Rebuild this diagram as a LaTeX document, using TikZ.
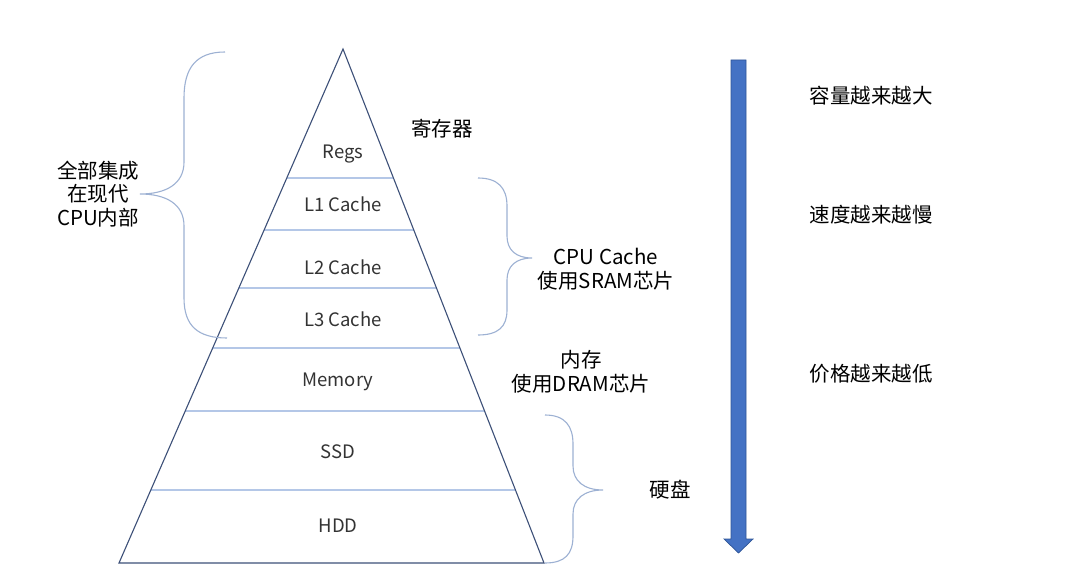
\documentclass[tikz,border=0pt]{standalone}
\usepackage{fontspec}
\newfontfamily\cjk{Noto Sans CJK SC}
\usetikzlibrary{calc}
\definecolor{edgeblue}{HTML}{3D5078}
\definecolor{sepblue}{HTML}{B4C7E7}
\definecolor{braceblue}{HTML}{9DB1D3}
\definecolor{arrowfill}{HTML}{4472C4}
\definecolor{arrowline}{HTML}{2F5597}
\definecolor{labelgray}{HTML}{333333}
\tikzset{
  layerlabel/.style={font=\cjk\fontsize{18.5}{22}\selectfont, text=labelgray, inner sep=0pt},
  sidelabel/.style={font=\cjk\fontsize{20.5}{23.5}\selectfont, text=black, inner sep=0pt, align=center},
  bracepath/.style={draw=braceblue, line width=1.1pt},
  seppath/.style={draw=sepblue, line width=1.2pt},
  pyredge/.style={draw=edgeblue, line width=1.1pt, line join=miter},
}
\newcommand{\sepline}[1]{%
  \draw[seppath] ($(A)!{(#1-49)/514}!(BL)$) -- ($(A)!{(#1-49)/514}!(BR)$);}
\begin{document}
\begin{tikzpicture}[x=1pt,y=-1pt]
\useasboundingbox (0,0) rectangle (1070,580);
\fill[white] (0,0) rectangle (1070,580);
% pyramid
\coordinate (A) at (343,49);
\coordinate (BL) at (119,563);
\coordinate (BR) at (544,563);
\sepline{178}
\sepline{230}
\sepline{288}
\sepline{348}
\sepline{411}
\sepline{490}
\draw[pyredge] (BL) -- (A) -- (BR) -- cycle;
% layer labels
\node[layerlabel] (regs) at (343,154) {Regs};
\node[layerlabel] (l1) at (343,204) {L1 Cache};
\node[layerlabel] (l2) at (343,267) {L2 Cache};
\node[layerlabel] (l3) at (343,319) {L3 Cache};
\node[layerlabel] (mem) at (338,382) {Memory};
\node[layerlabel] (ssd) at (338,452) {SSD};
\node[layerlabel] (hdd) at (338,526) {HDD};
% braces
\draw[bracepath] (225,52) .. controls (196,52) and (184,68) .. (184,98) -- (184,162)
  .. controls (184,184) and (166,194) .. (140,194)
  .. controls (166,194) and (184,204) .. (184,226) -- (184,298)
  .. controls (184,326) and (198,338) .. (227,338);
\draw[bracepath] (478,178) .. controls (498,178) and (507,188) .. (507,206) -- (507,236)
  .. controls (507,250) and (516,258) .. (532,258)
  .. controls (516,258) and (507,266) .. (507,280) -- (507,310)
  .. controls (507,327) and (498,335) .. (478,335);
\draw[bracepath] (545,415) .. controls (565,415) and (573,426) .. (573,444) -- (573,466)
  .. controls (573,481) and (584,490) .. (603,490)
  .. controls (584,490) and (573,499) .. (573,514) -- (573,536)
  .. controls (573,554) and (565,563) .. (545,563);
% side labels
\node[sidelabel] (reg) at (442,129) {寄存器};
\node[sidelabel] (cpu) at (98,194) {全部集成\\在现代\\CPU内部};
\node[sidelabel] (sram) at (606,269) {CPU Cache\\使用SRAM芯片};
\node[sidelabel] (dram) at (581,372) {内存\\使用DRAM芯片};
\node[sidelabel] (disk) at (670,490) {硬盘};
\node[sidelabel] (cap) at (871,96) {容量越来越大};
\node[sidelabel] (spd) at (871,215) {速度越来越慢};
\node[sidelabel] (price) at (871,374) {价格越来越低};
% arrow
\draw[fill=arrowfill, draw=arrowline, line width=0.7pt]
  (731,60) -- (746,60) -- (746,539) -- (753,539) -- (738.5,553) -- (724,539) -- (731,539) -- cycle;
\end{tikzpicture}
\end{document}
